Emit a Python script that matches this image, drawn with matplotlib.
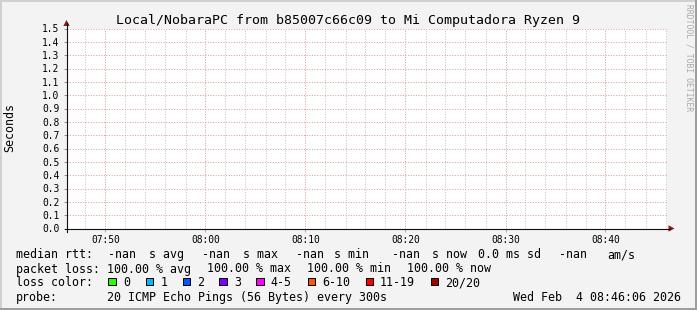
import numpy as np
import matplotlib
matplotlib.use('Agg')
import matplotlib.pyplot as plt
import matplotlib.dates as mdates
from matplotlib.patches import Rectangle, Polygon
from matplotlib.lines import Line2D
from datetime import datetime

# ── Data ─────────────────────────────────────────────────────────────────────
window_start = datetime(2026, 2, 4, 7, 46, 6)
window_end = datetime(2026, 2, 4, 8, 46, 6)
sample_times = ['07:51:06', '07:56:06', '08:01:06', '08:06:06', '08:11:06', '08:16:06',
                '08:21:06', '08:26:06', '08:31:06', '08:36:06', '08:41:06', '08:46:06']
median_rtt = [np.nan, np.nan, np.nan, np.nan, np.nan, np.nan,
              np.nan, np.nan, np.nan, np.nan, np.nan, np.nan]
y_ticks = [0.0, 0.1, 0.2, 0.3, 0.4, 0.5, 0.6, 0.7, 0.8, 0.9,
           1.0, 1.1, 1.2, 1.3, 1.4, 1.5]
loss_labels = ['0', '1', '2', '3', '4-5', '6-10', '11-19', '20/20']
loss_colors = ['#26ff00', '#00b8ff', '#0059ff', '#7e00ff',
               '#ff00ff', '#ff5500', '#ff0000', '#a10000']

# ── Canvas (pixel helpers) ───────────────────────────────────────────────────
W, H = 697, 310
MONO = 'DejaVu Sans Mono'
fig = plt.figure(figsize=(W / 100, H / 100), dpi=100, facecolor='#f3f3f3')

def fx(x):
    return x / W

def fy(y):
    return 1 - y / H

def ftext(x, y, s, fs=8.4, ha='left', va='baseline', **kw):
    fig.text(fx(x), fy(y), s, fontsize=fs, family=MONO, ha=ha, va=va, **kw)

# shaded frame
for (x0, y0, w, h, c) in [(0, 0, W, 2, '#d0d0d0'), (0, 0, 2, H, '#d0d0d0'),
                          (0, H - 2, W, 2, '#9e9e9e'), (W - 2, 0, 2, H, '#9e9e9e')]:
    fig.add_artist(Rectangle((fx(x0), fy(y0 + h)), w / W, h / H,
                             transform=fig.transFigure, fc=c, ec='none', zorder=0))

# ── Plot area ────────────────────────────────────────────────────────────────
L, R, T, B = 66.5, 666.5, 28.5, 228.5
ax = fig.add_axes([fx(L), fy(B), (R - L) / W, (B - T) / H])
ax.set_facecolor('white')
for s in ax.spines.values():
    s.set_visible(False)

times = [datetime.strptime('2026-02-04 ' + t, '%Y-%m-%d %H:%M:%S') for t in sample_times]
ax.plot(times, median_rtt, color='#26ff00', lw=1)

ax.set_xlim(window_start, window_end)
ax.set_ylim(0, 1.5)
ax.set_yticks(y_ticks)
ax.set_yticklabels([f'{v:.1f}' for v in y_ticks])
ax.xaxis.set_major_locator(mdates.MinuteLocator(byminute=range(0, 60, 10)))
ax.xaxis.set_minor_locator(mdates.MinuteLocator(byminute=range(0, 60, 2)))
ax.xaxis.set_major_formatter(mdates.DateFormatter('%H:%M'))

MGRID = '#dc9c9c'
GRID = '#c4c4c4'
ax.grid(True, which='minor', axis='x', color=GRID, lw=0.72, ls=(0, (1, 1.6)))
ax.grid(True, which='major', axis='x', color=MGRID, lw=0.72, ls=(0, (1, 1.6)))
ax.grid(True, which='major', axis='y', color=MGRID, lw=0.72, ls=(0, (1, 1.6)))
ax.set_axisbelow(True)

ax.tick_params(axis='x', which='major', length=2.0, width=0.72, color=MGRID,
               labelsize=6.9, pad=2.6)
ax.tick_params(axis='x', which='minor', length=0)
ax.tick_params(axis='y', which='major', length=2.0, width=0.72, color='#909090',
               labelsize=6.9, pad=3.0)
for lab in ax.get_xticklabels() + ax.get_yticklabels():
    lab.set_family(MONO)

# axis lines with arrows
AXC = '#101010'
ARC = '#8b1a1a'
fig.add_artist(Line2D([fx(64.5), fx(670)], [fy(B), fy(B)], color=AXC, lw=0.8,
                      transform=fig.transFigure))
fig.add_artist(Line2D([fx(L), fx(L)], [fy(231.5), fy(23)], color=AXC, lw=0.8,
                      transform=fig.transFigure))
fig.add_artist(Polygon([(fx(668.5), fy(B - 3.2)), (fx(668.5), fy(B + 3.2)),
                        (fx(674.5), fy(B))], closed=True, fc=ARC, ec='none',
                       transform=fig.transFigure))
fig.add_artist(Polygon([(fx(L - 3.2), fy(26)), (fx(L + 3.2), fy(26)),
                        (fx(L), fy(20))], closed=True, fc=ARC, ec='none',
                       transform=fig.transFigure))

# ── Titles ───────────────────────────────────────────────────────────────────
ftext(348.5, 24, 'Local/NobaraPC from b85007c66c09 to Mi Computadora Ryzen 9',
      fs=9.5, ha='center')
ftext(9.5, 128, 'Seconds', fs=8.4, ha='center', va='center', rotation=90)
ftext(689, 58, 'RRDTOOL / TOBI OETIKER', fs=5.8, ha='center', va='center',
      rotation=270, color='#a8a8a8')

# ── Legend ───────────────────────────────────────────────────────────────────
row1, row2, row3, row4 = 258.3, 272.5, 286.2, 300.6
for x, s in [(16, 'median rtt:'), (108.3, '-nan'), (149, 's avg'),
             (202.3, '-nan'), (242.7, 's max'), (296, '-nan'), (334.3, 's min'),
             (392.3, '-nan'), (431.7, 's now'), (478.3, '0.0 ms sd'),
             (559.3, '-nan'), (607.7, 'am/s')]:
    ftext(x, row1, s)

for x, s in [(16, 'packet loss:'), (107.3, '100.00 % avg'), (207.3, '100.00 % max'),
             (307.3, '100.00 % min'), (407.3, '100.00 % now')]:
    ftext(x, row2, s)

ftext(16, row3, 'loss color:')
box_x = [108.3, 145.7, 182.5, 219.3, 256.2, 308.0, 365.5, 431.0]
for bx, lab, col in zip(box_x, loss_labels, loss_colors):
    fig.add_artist(Rectangle((fx(bx), fy(285.2)), 7.3 / W, 7.6 / H,
                             transform=fig.transFigure, fc=col, ec='black', lw=0.72))
    ftext(bx + 14.5, row3, lab)

ftext(16, row4, 'probe:')
ftext(107.3, row4, '20 ICMP Echo Pings (56 Bytes) every 300s')
ftext(512.7, row4, 'Wed Feb  4 08:46:06 2026')

fig.savefig('out.png', dpi=100, facecolor=fig.get_facecolor())
